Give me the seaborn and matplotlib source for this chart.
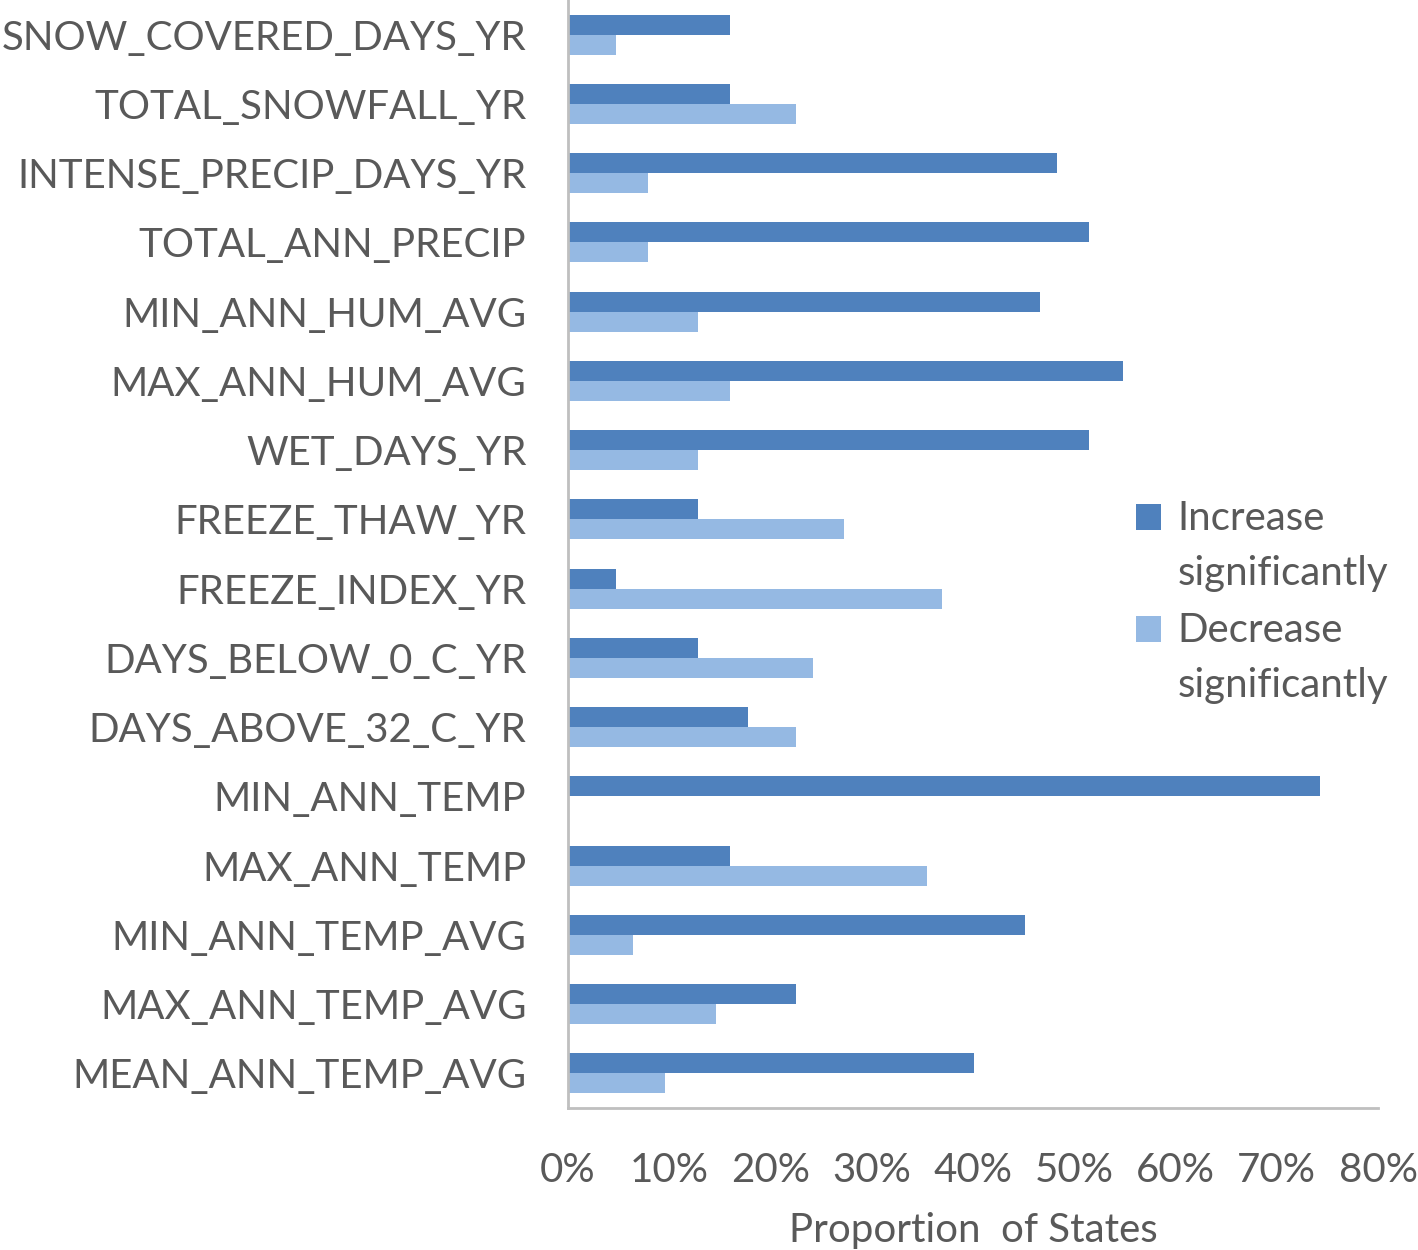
import pandas as pd
import matplotlib.pyplot as plt
import matplotlib.patches as mpatches
from matplotlib.legend_handler import HandlerPatch
import seaborn as sns
from matplotlib.ticker import PercentFormatter

# Values (share of states, %)
variables = ['SNOW_COVERED_DAYS_YR', 'TOTAL_SNOWFALL_YR', 'INTENSE_PRECIP_DAYS_YR',
             'TOTAL_ANN_PRECIP', 'MIN_ANN_HUM_AVG', 'MAX_ANN_HUM_AVG', 'WET_DAYS_YR',
             'FREEZE_THAW_YR', 'FREEZE_INDEX_YR', 'DAYS_BELOW_0_C_YR', 'DAYS_ABOVE_32_C_YR',
             'MIN_ANN_TEMP', 'MAX_ANN_TEMP', 'MIN_ANN_TEMP_AVG', 'MAX_ANN_TEMP_AVG',
             'MEAN_ANN_TEMP_AVG']
increase = [16.0, 16.0, 48.3, 51.5, 46.6, 54.8, 51.5, 12.8, 4.7, 12.8, 17.8, 74.3, 16.0, 45.1, 22.5, 40.1]
decrease = [4.7, 22.5, 7.9, 7.9, 12.8, 16.0, 12.8, 27.3, 36.9, 24.2, 22.5, 0.0, 35.5, 6.4, 14.6, 9.6]
series = ['Increase\nsignificantly', 'Decrease\nsignificantly']

df = pd.DataFrame({'variable': variables * 2,
                   'value': increase + decrease,
                   'trend': [series[0]] * len(variables) + [series[1]] * len(variables)})

sns.set_style('white')
plt.rcParams['font.family'] = ['Lato', 'DejaVu Sans']
txt = '#595959'
fs = 29

fig = plt.figure(figsize=(14.18, 12.5), dpi=100)
ax = fig.add_axes([0.4006, 0.1136, 0.5712, 0.8864])

sns.barplot(data=df, y='variable', x='value', hue='trend', order=variables,
            hue_order=series, palette=['#4f81bd', '#95b9e3'], saturation=1,
            width=0.58, linewidth=0, orient='h', ax=ax)

ax.set_xlim(0, 80)
ax.set_xticks(range(0, 81, 10))
ax.xaxis.set_major_formatter(PercentFormatter(decimals=0))
ax.set_ylabel('')
ax.set_xlabel('Proportion  of States', fontsize=fs, color=txt, labelpad=16)
ax.tick_params(axis='both', length=0, labelsize=fs, labelcolor=txt)
ax.tick_params(axis='y', pad=30)
ax.tick_params(axis='x', pad=32)

for s in ['top', 'right']:
    ax.spines[s].set_visible(False)
for s in ['left', 'bottom']:
    ax.spines[s].set_color('#bfbfbf')
    ax.spines[s].set_linewidth(2)


# legend square sits next to the first line of the two-line label
def top_square(legend, orig_handle, xdescent, ydescent, width, height, fontsize):
    return mpatches.Rectangle((-xdescent, -ydescent + 21), width, height)


ax.legend(loc='center left', bbox_to_anchor=(0.656, 0.457), frameon=False,
          fontsize=fs, labelcolor=txt, handlelength=0.62, handleheight=0.62,
          handletextpad=0.42, labelspacing=0.5,
          handler_map={mpatches.Rectangle: HandlerPatch(patch_func=top_square)})
for t in ax.get_legend().get_texts():
    t.set_linespacing(1.6)

fig.savefig('out.png', dpi=100)
